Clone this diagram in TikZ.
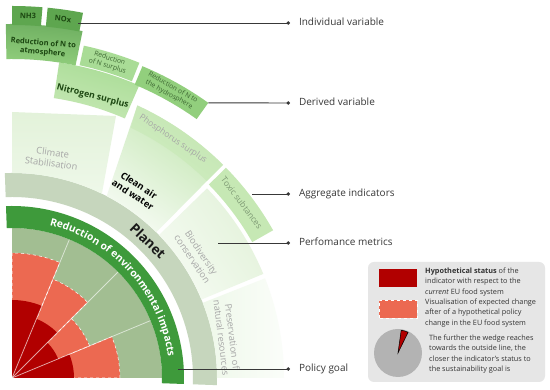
\documentclass[tikz,border=0pt]{standalone}
\usepackage{fontspec}
\setmainfont{Open Sans}
\usetikzlibrary{arrows.meta, decorations.text}

\definecolor{sage}{HTML}{A2BE92}
\definecolor{statusred}{HTML}{B10000}
\definecolor{changered}{HTML}{EC6951}
\definecolor{goalgreen}{HTML}{3E9A3B}
\definecolor{planetgreen}{HTML}{C6D6BD}
\definecolor{metrictop}{HTML}{E3F2DA}
\definecolor{metricbottom}{HTML}{EEF8E9}
\definecolor{cleantop}{HTML}{C2E6B0}
\definecolor{cleanbottom}{HTML}{F4FAF1}
\definecolor{aggrgreen}{HTML}{C6E8B4}
\definecolor{nsurpgreen}{HTML}{A9DC96}
\definecolor{hydrogreen}{HTML}{92CF7D}
\definecolor{indivgreen}{HTML}{5EA64F}
\definecolor{darkleaf}{HTML}{1C4711}
\definecolor{leaftext}{HTML}{3E6833}
\definecolor{metricgray}{HTML}{A6A6A6}
\definecolor{toxicgray}{HTML}{7E9A74}
\definecolor{leadergray}{HTML}{383838}
\definecolor{legendgray}{HTML}{E6E6E6}
\definecolor{piegray}{HTML}{B3B3B3}

% ring segment: [style]{start angle}{end angle}{inner radius}{outer radius}
\newcommand{\ringseg}[5][]{%
  \path[#1] (#2:#4) arc[start angle=#2, end angle=#3, radius=#4]
    -- (#3:#5) arc[start angle=#3, end angle=#2, radius=#5] -- cycle;}
% wedge from the centre: [style]{start angle}{end angle}{radius}
\newcommand{\piewedge}[4][]{%
  \path[#1] (0,0) -- (#2:#4) arc[start angle=#2, end angle=#3, radius=#4] -- cycle;}

\begin{document}
\begin{tikzpicture}[x=1pt, y=1pt,
        % wedges of the rose
        statuswedge/.style = {fill=statusred},
        changewedge/.style = {fill=changered, draw=white, dashed, line width=0.5pt},
        spoke/.style = {draw=white, opacity=0.6, line width=0.8pt},
        % rings and boxes
        goalring/.style = {fill=goalgreen},
        planetring/.style = {fill=planetgreen},
        climatebox/.style = {top color=metrictop, bottom color=metricbottom},
        cleanairbox/.style = {top color=cleantop, bottom color=cleanbottom, shading angle=-36},
        biobox/.style = {top color=metrictop, bottom color=metricbottom!60!white, shading angle=-56},
        presbox/.style = {left color=metricbottom, right color=metricbottom!25!white},
        aggrbox/.style = {fill=aggrgreen},
        nitrobox/.style = {top color=nsurpgreen, bottom color=aggrgreen, shading angle=-16},
        nsurpbox/.style = {fill=nsurpgreen},
        hydrobox/.style = {fill=hydrogreen},
        atmobox/.style = {top color=indivgreen!90!white, bottom color=hydrogreen, shading angle=-5},
        indivbox/.style = {fill=indivgreen},
        % texts
        indivtext/.style = {font=\bfseries\fontsize{7.5}{9}\selectfont, text=darkleaf, inner sep=0pt, align=center},
        derivtext/.style = {font=\fontsize{6.8}{8}\selectfont, text=leaftext, inner sep=0pt, align=center},
        aggrbold/.style = {font=\bfseries\fontsize{8.8}{10}\selectfont, text=darkleaf, inner sep=0pt},
        aggrtext/.style = {font=\fontsize{8.5}{10}\selectfont, text=metricgray, inner sep=0pt},
        metrictext/.style = {font=\fontsize{9.3}{11}\selectfont, text=metricgray, inner sep=0pt, align=center},
        cleantext/.style = {font=\bfseries\fontsize{9.3}{11}\selectfont, text=black, inner sep=0pt, align=center},
        planettext/.style = {font=\bfseries\fontsize{13.5}{15}\selectfont, text=black!90, inner sep=0pt},
        legendtext/.style = {font=\fontsize{7.3}{10.2}\selectfont, text=black!80, inner sep=0pt, align=left, anchor=north west},
        levellabel/.style = {font=\fontsize{10}{12}\selectfont, text=leadergray, anchor=west,
            inner sep=0pt, outer xsep=9pt, text height=7pt, text depth=2pt},
        % leader lines
        leader/.style = {draw=leadergray, line width=0.9pt, -{Circle[length=3.4pt]}}
    ]

    % 0. Canvas
    \useasboundingbox (0,0) rectangle (550,390);
    \fill[white] (0,0) rectangle (550,390);

    \begin{scope}[shift={(12,12)}]
        % 1. Rose of the indicators
        \piewedge[fill=sage]{0}{90}{150}
        \piewedge[changewedge]{0}{22.5}{108}
        \piewedge[changewedge]{22.5}{45}{84}
        \piewedge[changewedge]{45}{67.5}{107}
        \piewedge[changewedge]{67.5}{90}{125}
        \piewedge[statuswedge]{0}{22.5}{62}
        \piewedge[statuswedge]{22.5}{45}{50}
        \piewedge[statuswedge]{45}{67.5}{64}
        \piewedge[statuswedge]{67.5}{90}{78}
        \foreach \a in {22.5, 45, 67.5}
            \draw[spoke] (0,0) -- (\a:150);

        % 2. Policy goal and planet rings
        \ringseg[goalring]{-2}{92}{150}{172}
        \ringseg[planetring]{-2}{92}{181}{205}
        \path[decorate, decoration={text along path, text align=center, text color=white,
            text={|\bfseries\fontsize{10.3}{12}\selectfont|Reduction of environmental impacts}}]
            (80:157.5) arc[start angle=80, end angle=4, radius=157.5];
        \node (planet) [planettext, rotate=-44] at (136,137) {Planet};

        % 3. Performance metrics
        \path[climatebox] (64:205) -- (104,262) -- (0,266) -- (90:205)
            arc[start angle=90, end angle=64, radius=205] -- cycle;
        \path[cleanairbox] (62.5:205) -- (65.3:300) arc[start angle=65.3, end angle=45.3, radius=300]
            -- (45.3:205) arc[start angle=45.3, end angle=62.5, radius=205] -- cycle;
        \ringseg[biobox]{22.5}{44.2}{205}{272}
        \ringseg[presbox]{0}{21.5}{205}{272}
        \node (climate)  [metrictext, rotate=-8]  at (40,220) {Climate\\Stabilisation};
        \node (cleanair) [cleantext, rotate=-33]  at (124,188) {Clean air\\and water};
        \node (bio)      [metrictext, rotate=-56] at (185,122) {Biodiversity\\conservation};
        \node (pres)     [metrictext, rotate=-83] at (215,41) {Preservation of\\natural resources};

        % 4. Aggregate indicators
        \path[aggrbox, fill opacity=0.6] (45.3:277) -- (45.3:300) arc[start angle=45.3, end angle=65.3, radius=300]
            -- (64.6:277) arc[start angle=64.6, end angle=45.3, radius=277] -- cycle;
        \ringseg[aggrbox]{29.5}{44.5}{276}{300}
        \ringseg[nitrobox]{66.5}{81.5}{283}{319}
        \node (phos)  [aggrtext, rotate=-34] at (56:288) {Phosphorus surplus};
        \node (toxic) [aggrtext, text=toxicgray, rotate=-53] at (37.3:289) {Toxic subtances};
        \node (nitro) [aggrbold, rotate=-14] at (74:293) {Nitrogen surplus};

        % 5. Derived variables
        \ringseg[nsurpbox]{68}{77.8}{320}{340}
        \ringseg[hydrobox]{54.5}{67.3}{318}{338}
        \ringseg[atmobox]{78.5}{91}{319}{354}
        \node (nsurp) [derivtext, rotate=-17] at (73:330) {Reduction\\of N surplus};
        \node (hydro) [derivtext, rotate=-29] at (61:328) {Reduction of N to\\the hydrosphere};
        \node (atmo)  [indivtext, rotate=-5]  at (31,330) {Reduction of N to\\atmosphere};

        % 6. Individual variables
        \ringseg[indivbox]{85.3}{90}{353}{372}
        \ringseg[indivbox]{79}{84.5}{353}{372}
        \node (nh3) [indivtext, rotate=-2] at (16,362) {NH3};
        \node (nox) [indivtext, rotate=-5] at (51,359) {NOx};

        % start points of the leaders
        \coordinate (noxend)   at (66,355);
        \coordinate (hydroend) at (54.5:338);
        \coordinate (toxicend) at (240,184);
        \coordinate (bioend)   at (206,135);
        \coordinate (goalend)  at (166,9);
    \end{scope}

    % 7. Level labels
    \node (indiv)   [levellabel] at (290,367) {Individual variable};
    \node (derived) [levellabel] at (290,287) {Derived variable};
    \node (aggr)    [levellabel] at (290,196) {Aggregate indicators};
    \node (metric)  [levellabel] at (290,147) {Perfomance metrics};
    \node (goal)    [levellabel] at (290,21)  {Policy goal};
    \draw [leader] (noxend) -- (indiv.west);
    \draw [leader] (hydroend) -- (derived.west);
    \draw [leader] (toxicend) -- (aggr.west);
    \draw [leader] (bioend) -- (metric.west);
    \draw [leader] (goalend) -- (goal.west);

    % 8. Legend
    \fill[legendgray, rounded corners=6pt] (368,8) rectangle (545,128);
    \fill[statusred] (379,103) rectangle (417,121);
    \path[changewedge] (379,72) rectangle (417,90);
    \begin{scope}[shift={(398,37)}]
        \fill[piegray] (0,0) circle (24);
        \piewedge[fill=statusred, draw=black, line width=0.5pt]{64}{82}{23}
    \end{scope}
    \node (statustext) [legendtext] at (425,122)
        {\textbf{Hypothetical status} of the\\indicator with respect to the\\\textit{current} EU food system};
    \node (changetext) [legendtext] at (425,91)
        {Visualisation of expected change\\after of a hypothetical policy\\change in the EU food system};
    \node (goaltext) [legendtext] at (429,55)
        {The further the wedge reaches\\towards the outside line, the\\closer the indicator's status to\\the sustainability goal is};

\end{tikzpicture}
\end{document}
